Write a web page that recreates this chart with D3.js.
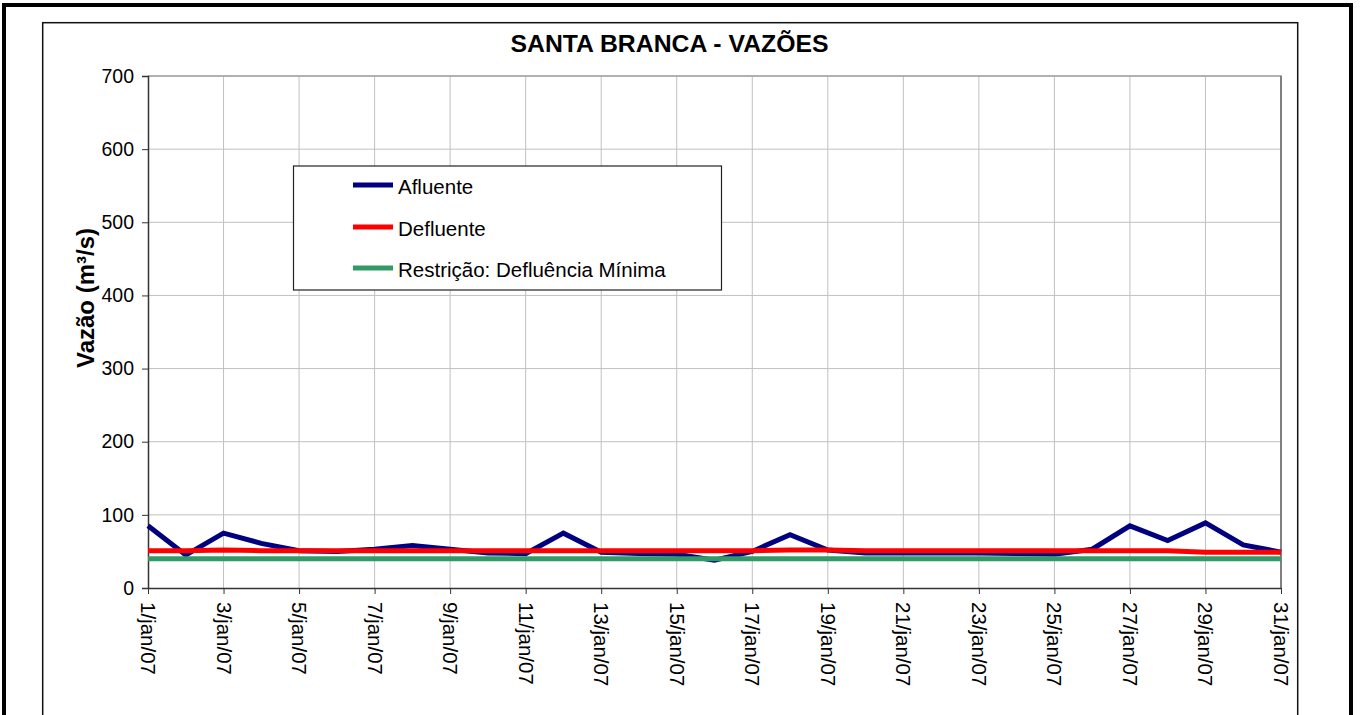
<!DOCTYPE html>
<html>
<head>
<meta charset="utf-8">
<script src="https://cdn.jsdelivr.net/npm/d3@7"></script>
<style>
  html, body { margin: 0; padding: 0; background: #fff; }
  svg { display: block; font-family: Arial, "Liberation Sans", sans-serif; }
</style>
</head>
<body>
<svg id="chart" width="1360" height="715"></svg>
<script>
// ---- Data ----
const categories = [
  "1/jan/07","2/jan/07","3/jan/07","4/jan/07","5/jan/07","6/jan/07","7/jan/07","8/jan/07",
  "9/jan/07","10/jan/07","11/jan/07","12/jan/07","13/jan/07","14/jan/07","15/jan/07","16/jan/07",
  "17/jan/07","18/jan/07","19/jan/07","20/jan/07","21/jan/07","22/jan/07","23/jan/07","24/jan/07",
  "25/jan/07","26/jan/07","27/jan/07","28/jan/07","29/jan/07","30/jan/07","31/jan/07"
];
const afluente = [85,45,75,61,51,50,53,58,53,48,47,75,49,47,46,38,50,73,52,48,48,48,48,47,46,53,85,65,89,59,49];
const defluente = [51,51,52,51,51,51,51,51,51,51,51,51,51,51,51,51,51,52,52,51,51,51,51,51,51,51,51,51,49,49,49];
const restricao = [40,40,40,40,40,40,40,40,40,40,40,40,40,40,40,40,40,40,40,40,40,40,40,40,40,40,40,40,40,40,40];
const yTicks = [0,100,200,300,400,500,600,700];
const xTickLabels = categories.filter((d, i) => i % 2 === 0);
const seriesNames = ["Afluente", "Defluente", "Restrição: Defluência Mínima"];
const title = "SANTA BRANCA - VAZÕES";
const yLabel = "Vazão (m³/s)";

// ---- Layout ----
const svg = d3.select("#chart");
const L = 148, R = 1281, T = 76, B = 588;
const x = d3.scalePoint().domain(categories).range([L, R]);
const y = d3.scaleLinear().domain([0, 700]).range([B, T]);
const colors = ["#000080", "#ff0000", "#339966"];

// outer frames
svg.append("rect").attr("x", 4).attr("y", 5).attr("width", 1347).attr("height", 760)
  .attr("fill", "#fff").attr("stroke", "#000").attr("stroke-width", 4);
svg.append("rect").attr("x", 42.7).attr("y", 22.7).attr("width", 1255).attr("height", 760)
  .attr("fill", "#fff").attr("stroke", "#111").attr("stroke-width", 1.5);

// gridlines
const g = svg.append("g");
g.selectAll("line.hg").data(yTicks.filter(d => d > 0)).join("line")
  .attr("x1", L).attr("x2", R).attr("y1", d => y(d)).attr("y2", d => y(d))
  .attr("stroke", "#c0c0c0").attr("stroke-width", 1);
g.selectAll("line.vg").data(xTickLabels.slice(1)).join("line")
  .attr("x1", d => x(d)).attr("x2", d => x(d)).attr("y1", T).attr("y2", B)
  .attr("stroke", "#c0c0c0").attr("stroke-width", 1);
// plot border top/right
svg.append("line").attr("x1", L).attr("x2", R + 1).attr("y1", T).attr("y2", T)
  .attr("stroke", "#a0a0a0").attr("stroke-width", 1.5);
svg.append("line").attr("x1", R).attr("x2", R).attr("y1", T).attr("y2", B)
  .attr("stroke", "#808080").attr("stroke-width", 2);

// axes
const yAxis = d3.axisLeft(y).tickValues(yTicks).tickSize(6).tickPadding(8);
const ya = svg.append("g").attr("transform", `translate(${L},0)`).call(yAxis);
ya.select(".domain").attr("stroke", "#333").attr("stroke-width", 1.5);
ya.selectAll(".tick line").attr("stroke", "#333");
ya.selectAll(".tick text").attr("font-size", 19.5).attr("fill", "#000")
  .attr("font-family", "Arial, 'Liberation Sans', sans-serif");

const xAxis = d3.axisBottom(x).tickValues(xTickLabels).tickSize(6).tickSizeOuter(0);
const xa = svg.append("g").attr("transform", `translate(0,${B})`).call(xAxis);
xa.select(".domain").attr("stroke", "#333").attr("stroke-width", 1.5);
xa.selectAll(".tick line").attr("stroke", "#333");
xa.selectAll(".tick text")
  .attr("font-size", 20.5).attr("fill", "#000")
  .attr("font-family", "Arial, 'Liberation Sans', sans-serif")
  .attr("text-anchor", "start")
  .attr("dy", null)
  .attr("dominant-baseline", "central")
  .attr("transform", "translate(0,14) rotate(90)")
  .attr("y", 0).attr("x", 0);

// lines
const allSeries = [afluente, defluente, restricao];
const line = d3.line().x((d, i) => x(categories[i])).y(d => y(d));
allSeries.forEach((s, k) => {
  svg.append("path").datum(s).attr("d", line)
    .attr("fill", "none").attr("stroke", colors[k]).attr("stroke-width", 5)
    .attr("stroke-linejoin", "miter");
});

// title
svg.append("text").attr("x", 669.5).attr("y", 51.5).attr("text-anchor", "middle")
  .attr("font-size", 23).attr("font-weight", "bold").attr("fill", "#000")
  .attr("textLength", 318).attr("lengthAdjust", "spacingAndGlyphs")
  .text(title);

// y label
svg.append("text").attr("transform", "translate(94,298) rotate(-90)")
  .attr("text-anchor", "middle").attr("font-size", 24).attr("font-weight", "bold")
  .attr("fill", "#000").text(yLabel);

// legend
const lg = svg.append("g");
lg.append("rect").attr("x", 293.5).attr("y", 166).attr("width", 428).attr("height", 124)
  .attr("fill", "#fff").attr("stroke", "#222").attr("stroke-width", 1.2);
const rowY = [185, 227, 268];
seriesNames.forEach((n, k) => {
  lg.append("line").attr("x1", 353).attr("x2", 393).attr("y1", rowY[k]).attr("y2", rowY[k])
    .attr("stroke", colors[k]).attr("stroke-width", 5);
  lg.append("text").attr("x", 398).attr("y", rowY[k] + 1).attr("dominant-baseline", "central")
    .attr("font-size", 20.5).attr("fill", "#000").text(n);
});
</script>
</body>
</html>
